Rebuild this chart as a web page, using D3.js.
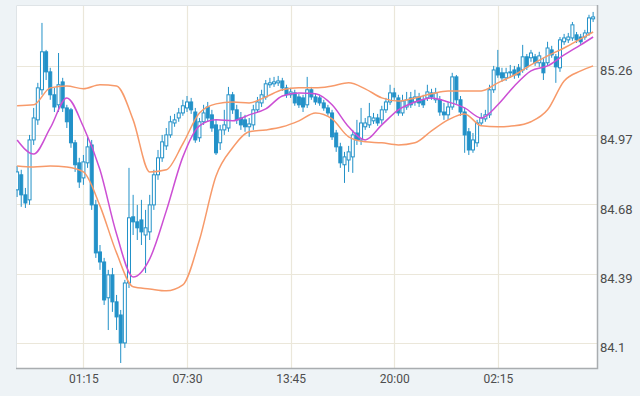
<!DOCTYPE html>
<html>
<head>
<meta charset="utf-8">
<script src="https://cdn.jsdelivr.net/npm/d3@7"></script>
<style>
  html, body {margin: 0; padding: 0; background: #eef3f6;}
  svg {display: block;}
</style>
</head>
<body>
<div id="chart"></div>
<script>
// Data (15 minute candles, first one at 21:15)
var startTime = new Date(2020, 0, 6, 21, 15),
    stepMin = 15;

var opens = [84.741,84.804,84.720,84.699,84.950,85.034,85.160,85.319,85.235,85.139,
  85.097,85.193,85.084,85.076,84.938,84.854,84.791,84.854,84.929,84.678,
  84.481,84.439,84.289,84.385,84.272,84.217,84.100,84.351,84.628,84.607,
  84.615,84.552,84.565,84.678,84.804,84.875,84.925,84.971,85.021,85.042,
  85.063,85.084,85.109,85.067,84.959,85.026,85.088,85.055,85.013,84.938,
  84.992,85.000,85.139,85.076,85.042,85.034,85.005,85.013,85.076,85.105,
  85.130,85.181,85.185,85.189,85.197,85.168,85.139,85.147,85.130,85.126,
  85.097,85.160,85.130,85.126,85.105,85.084,85.063,84.979,84.921,84.846,
  84.866,84.879,84.979,84.950,85.005,85.013,85.030,85.042,85.034,85.076,
  85.109,85.147,85.126,85.063,85.088,85.126,85.109,85.130,85.118,85.126,
  85.147,85.118,85.118,85.067,85.055,85.088,85.214,85.118,85.067,84.984,
  84.908,84.938,85.021,85.038,85.055,85.160,85.252,85.231,85.210,85.231,
  85.243,85.252,85.243,85.298,85.294,85.298,85.273,85.273,85.273,85.327,
  85.298,85.252,85.361,85.369,85.377,85.390,85.381,85.381,85.398,85.457];

var highs = [84.841,84.825,84.749,84.971,85.084,85.189,85.440,85.327,85.252,85.168,
  85.314,85.210,85.097,85.084,84.950,84.875,84.887,84.963,84.950,84.699,
  84.510,84.456,84.406,84.414,84.301,84.238,84.364,84.833,84.720,84.678,
  84.699,84.657,84.720,84.825,84.908,84.971,85.000,85.051,85.059,85.084,
  85.118,85.134,85.126,85.084,85.042,85.097,85.109,85.076,85.034,85.013,
  85.076,85.172,85.151,85.097,85.067,85.055,85.042,85.097,85.130,85.160,
  85.201,85.210,85.214,85.218,85.210,85.181,85.168,85.160,85.143,85.139,
  85.214,85.172,85.143,85.139,85.118,85.097,85.076,84.992,84.938,84.900,
  84.925,84.992,85.034,85.084,85.042,85.105,85.063,85.059,85.093,85.126,
  85.181,85.168,85.139,85.139,85.151,85.151,85.160,85.147,85.139,85.181,
  85.164,85.168,85.134,85.105,85.109,85.231,85.222,85.134,85.084,85.000,
  84.979,85.034,85.063,85.076,85.181,85.260,85.327,85.252,85.252,85.264,
  85.260,85.268,85.348,85.310,85.327,85.310,85.319,85.294,85.361,85.344,
  85.310,85.381,85.394,85.398,85.444,85.402,85.394,85.411,85.474,85.486];

var lows = [84.711,84.670,84.665,84.678,84.929,85.013,85.139,85.201,85.118,85.067,
  85.067,85.067,85.000,84.917,84.816,84.749,84.762,84.833,84.657,84.456,
  84.406,84.259,84.154,84.230,84.154,84.016,84.079,84.330,84.552,84.531,
  84.510,84.393,84.531,84.657,84.783,84.858,84.908,84.959,85.005,85.026,
  85.051,85.067,85.059,84.938,84.942,85.013,85.026,84.984,84.887,84.908,
  84.971,84.984,85.059,85.017,84.992,84.984,84.963,84.992,85.063,85.088,
  85.118,85.168,85.172,85.176,85.155,85.126,85.126,85.093,85.084,85.067,
  85.084,85.118,85.097,85.093,85.072,85.051,84.950,84.900,84.833,84.770,
  84.816,84.812,84.929,84.929,84.992,85.000,85.017,85.009,85.017,85.063,
  85.097,85.118,85.051,85.051,85.076,85.084,85.093,85.088,85.084,85.113,
  85.118,85.105,85.051,85.034,85.034,85.076,85.101,85.051,84.896,84.887,
  84.896,84.921,85.009,85.026,85.042,85.147,85.210,85.193,85.197,85.210,
  85.206,85.210,85.231,85.243,85.277,85.260,85.256,85.201,85.260,85.294,
  85.189,85.235,85.348,85.356,85.365,85.356,85.348,85.369,85.386,85.444];

var closes = [84.816,84.720,84.686,84.950,85.042,85.168,85.319,85.235,85.139,85.088,
  85.181,85.084,85.026,84.938,84.846,84.774,84.858,84.921,84.678,84.477,
  84.439,84.280,84.385,84.272,84.209,84.100,84.351,84.624,84.607,84.582,
  84.565,84.582,84.678,84.804,84.875,84.942,84.971,85.026,85.034,85.063,
  85.093,85.109,85.076,84.950,85.026,85.063,85.042,85.000,84.896,84.992,
  85.013,85.139,85.076,85.034,85.013,85.005,85.017,85.076,85.109,85.139,
  85.185,85.189,85.193,85.197,85.168,85.139,85.151,85.105,85.097,85.088,
  85.160,85.130,85.109,85.105,85.084,85.063,84.963,84.921,84.854,84.879,
  84.900,84.971,84.950,85.021,85.021,85.047,85.042,85.021,85.076,85.109,
  85.147,85.130,85.063,85.113,85.118,85.097,85.130,85.105,85.097,85.151,
  85.130,85.147,85.067,85.055,85.088,85.214,85.118,85.067,84.971,84.908,
  84.950,85.021,85.042,85.055,85.160,85.243,85.222,85.210,85.231,85.235,
  85.222,85.222,85.298,85.256,85.314,85.273,85.302,85.231,85.335,85.306,
  85.256,85.369,85.377,85.381,85.432,85.369,85.361,85.398,85.461,85.465];

// Indicator lines, read every 4th candle (plus the last one)
var lineStep = 4;
var maLine = [84.950,84.891,85.000,85.126,85.005,84.825,84.556,84.376,84.452,84.653,
  84.879,85.009,85.034,85.030,85.055,85.080,85.134,85.147,85.143,85.097,
  85.005,84.950,85.013,85.076,85.109,85.126,85.109,85.084,85.042,85.097,
  85.176,85.239,85.260,85.306,85.348,85.381];
var upperBand = [85.093,85.097,85.168,85.176,85.164,85.181,85.176,85.034,84.816,84.825,
  84.934,85.063,85.101,85.109,85.105,85.130,85.160,85.168,85.168,85.176,
  85.189,85.164,85.126,85.113,85.126,85.143,85.155,85.155,85.155,85.189,
  85.222,85.264,85.302,85.335,85.373,85.402];
var lowerBand = [84.841,84.837,84.841,84.837,84.816,84.674,84.477,84.335,84.326,84.318,
  84.343,84.531,84.799,84.917,84.984,84.992,85.005,85.030,85.063,85.038,
  84.963,84.942,84.938,84.929,84.938,84.988,85.034,85.059,85.009,85.005,
  85.009,85.026,85.076,85.197,85.239,85.260];

// Axis labels
var priceTicks = [84.1, 84.39, 84.68, 84.97, 85.26];
var firstTimeTick = new Date(2020, 0, 7, 1, 15),
    timeTickStep = 375,   // minutes between x labels
    timeTickCount = 5;

// Size
var W = 640, H = 396,
    plot = {left: 16, top: 5, right: 597, bottom: 368},
    font_family = "Roboto, 'Liberation Sans', Arial, sans-serif";

// Colors
var colors = {bg: "#eef3f6",
              grid: "#ebe7da",
              candle: "#2291c8",
              ma: "#cc4fd4",
              band: "#f79a6a",
              axis: "#a9adb0",
              text: "#4d4d4d"};

var times = closes.map(function(d, i){ return d3.timeMinute.offset(startTime, i*stepMin); });
var candles = closes.map(function(d, i){
  return {t: times[i], o: opens[i], h: highs[i], l: lows[i], c: d};
});

function lineData(values) {
  return values.map(function(v, k){
    var i = Math.min(k*lineStep, closes.length - 1);
    return {t: times[i], v: v};
  });
}

// Scales
var x = d3.scaleTime()
  .domain([d3.timeMinute.offset(times[0], -3.6), d3.timeMinute.offset(times[times.length-1], 14.4)])
  .range([plot.left, plot.right]);

var y = d3.scaleLinear()
  .domain([83.995, 85.515])
  .range([plot.bottom, plot.top]);

var svg = d3.select("#chart").append("svg")
  .attr("width", W)
  .attr("height", H);

svg.append("rect")
  .attr("width", W)
  .attr("height", H)
  .attr("fill", colors.bg);

svg.append("rect")
  .attr("x", plot.left)
  .attr("y", plot.top)
  .attr("width", plot.right - plot.left)
  .attr("height", plot.bottom - plot.top)
  .attr("fill", "#ffffff");

svg.append("clipPath")
  .attr("id", "plot-clip")
  .append("rect")
    .attr("x", plot.left)
    .attr("y", plot.top)
    .attr("width", plot.right - plot.left)
    .attr("height", plot.bottom - plot.top);

// Grid
var timeTicks = d3.range(timeTickCount).map(function(k){ return d3.timeMinute.offset(firstTimeTick, k*timeTickStep); });

svg.append("g").selectAll("line")
  .data(priceTicks)
  .enter().append("line")
    .attr("x1", plot.left)
    .attr("x2", plot.right)
    .attr("y1", function(d){ return Math.round(y(d)) + 0.5; })
    .attr("y2", function(d){ return Math.round(y(d)) + 0.5; })
    .attr("stroke", colors.grid)
    .attr("stroke-width", 1.2);

svg.append("g").selectAll("line")
  .data(timeTicks)
  .enter().append("line")
    .attr("x1", function(d){ return Math.round(x(d)) + 0.5; })
    .attr("x2", function(d){ return Math.round(x(d)) + 0.5; })
    .attr("y1", plot.top)
    .attr("y2", plot.bottom)
    .attr("stroke", colors.grid)
    .attr("stroke-width", 1.2);

// Axes
var xAxis = d3.axisBottom(x)
  .tickValues(timeTicks)
  .tickFormat(d3.timeFormat("%H:%M"))
  .tickSize(0)
  .tickPadding(6);

var gx = svg.append("g")
  .attr("transform", "translate(0," + plot.bottom + ")")
  .call(xAxis);
gx.select(".domain").remove();
gx.selectAll("text")
  .attr("fill", colors.text)
  .style("font-size", "12px")
  .style("font-family", font_family);

var yAxis = d3.axisRight(y)
  .tickValues(priceTicks)
  .tickFormat(function(d){ return String(d); })
  .tickSize(0)
  .tickPadding(3);

var gy = svg.append("g")
  .attr("transform", "translate(" + plot.right + ",0)")
  .call(yAxis);
gy.select(".domain").remove();
gy.selectAll("text")
  .attr("dy", "0.66em")
  .attr("fill", colors.text)
  .style("font-size", "13px")
  .style("font-family", font_family);

// Frame
svg.append("path")
  .attr("d", "M" + (plot.left + 0.5) + "," + plot.bottom + "V" + (plot.top + 0.5) + "H" + plot.right)
  .attr("fill", "none")
  .attr("stroke", "#dfe4e7");
svg.append("path")
  .attr("d", "M" + plot.left + "," + (plot.bottom + 0.5) + "H" + (plot.right + 0.5) + "V" + plot.top)
  .attr("fill", "none")
  .attr("stroke", colors.axis)
  .attr("stroke-width", 1.5);

// Candles
var chart = svg.append("g").attr("clip-path", "url(#plot-clip)");

var candle = chart.append("g").selectAll("g")
  .data(candles)
  .enter().append("g");

candle.append("line")
  .attr("x1", function(d){ return x(d.t); })
  .attr("x2", function(d){ return x(d.t); })
  .attr("y1", function(d){ return y(d.h); })
  .attr("y2", function(d){ return y(d.l); })
  .attr("stroke", colors.candle)
  .attr("stroke-width", 1);

candle.append("rect")
  .attr("x", function(d){ return x(d.t) - 1.5; })
  .attr("width", 3)
  .attr("y", function(d){ return y(Math.max(d.o, d.c)); })
  .attr("height", function(d){ return Math.max(1, Math.abs(y(d.o) - y(d.c))); })
  .attr("fill", function(d){ return d.c >= d.o ? "#ffffff" : colors.candle; })
  .attr("stroke", colors.candle)
  .attr("stroke-width", 1);

// Indicator lines
var line = d3.line()
  .x(function(d){ return x(d.t); })
  .y(function(d){ return y(d.v); })
  .curve(d3.curveMonotoneX);

[[upperBand, colors.band], [lowerBand, colors.band], [maLine, colors.ma]].forEach(function(s){
  chart.append("path")
    .datum(lineData(s[0]))
    .attr("d", line)
    .attr("fill", "none")
    .attr("stroke", s[1])
    .attr("stroke-width", 1.5);
});
</script>
</body>
</html>
